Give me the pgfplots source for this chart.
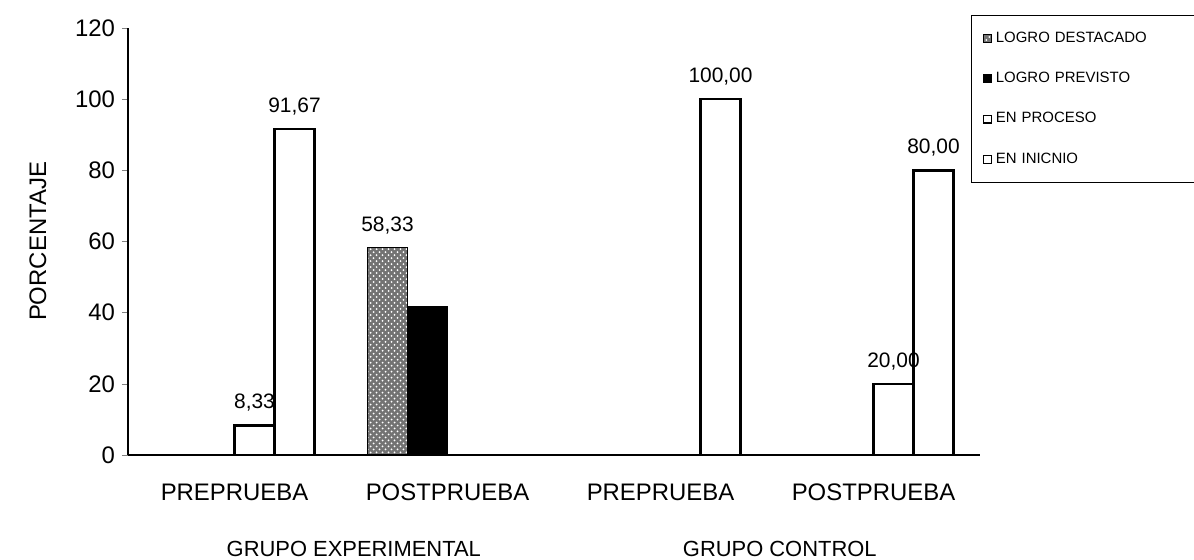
\documentclass[border=0pt]{standalone}
\usepackage{fontspec}
\setmainfont{Liberation Sans}
\usepackage{pgfplots}
\pgfplotsset{compat=1.18}
\usetikzlibrary{calc,patterns}
\begin{document}
\begin{tikzpicture}
\begin{axis}[
  name=ax,
  scale only axis,
  width=426bp, height=213.5bp,
  ybar=0pt, bar width=20bp,
  xmin=-0.5, xmax=3.5,
  ymin=0, ymax=120,
  axis x line=bottom, axis y line=left,
  axis line style={-, line width=0.7pt},
  ytick={0,20,...,120},
  tick align=outside,
  major tick length=3bp,
  xtick={0,1,2,3},
  xticklabels={PREPRUEBA,POSTPRUEBA,PREPRUEBA,POSTPRUEBA},
  x tick style={draw=none},
  xticklabel style={yshift=-8bp, font=\fontsize{12}{14}\selectfont},
  yticklabel style={font=\fontsize{12}{14}\selectfont},
  /pgf/number format/assume math mode=true,
  clip=false,
  legend style={at={(0.989,1.03)}, anchor=north west, draw=black, line width=0.5pt,
    font=\fontsize{7.5}{9}\selectfont, row sep=9.5bp, inner xsep=6bp, inner ysep=6bp,
    text width=36mm},
  legend cell align=left,
  legend image code/.code={\draw[#1, line width=0.6pt] (0bp,-1.9bp) rectangle (3.8bp,1.9bp);},
  every node near coord/.append style={font=\fontsize{10.5}{12}\selectfont, black, yshift=3bp},
  nodes near coords style={/pgf/number format/.cd, fixed, fixed zerofill, precision=2, use comma, assume math mode=true},
]
\addplot[draw=black, line width=0.6pt, fill=black!55,
  postaction={pattern=crosshatch dots, pattern color=white},
  nodes near coords] coordinates {(1,58.33)};
\addplot[draw=black, fill=black, line width=0.6pt] coordinates {(1,41.67)};
\addplot[draw=black, fill=white, line width=1.2pt, nodes near coords] coordinates {(0,8.33) (3,20)};
\addplot[draw=black, fill=white, line width=1.2pt, nodes near coords] coordinates {(0,91.67) (2,100) (3,80)};
\legend{LOGRO DESTACADO, LOGRO PREVISTO, EN PROCESO, EN INICNIO}
\node[font=\fontsize{11}{13}\selectfont, yshift=-47bp] at (axis cs:0.56,0) {GRUPO EXPERIMENTAL};
\node[font=\fontsize{11}{13}\selectfont, yshift=-47bp] at (axis cs:2.56,0) {GRUPO CONTROL};
\end{axis}
\node[font=\fontsize{12}{14}\selectfont, rotate=90] at ($(ax.west)+(-45bp,0)$) {PORCENTAJE};
\pgfresetboundingbox
\path[use as bounding box] ($(ax.south west)+(-64bp,-52.5bp)$) rectangle ($(ax.south west)+(533bp,227.5bp)$);
\end{tikzpicture}
\end{document}
